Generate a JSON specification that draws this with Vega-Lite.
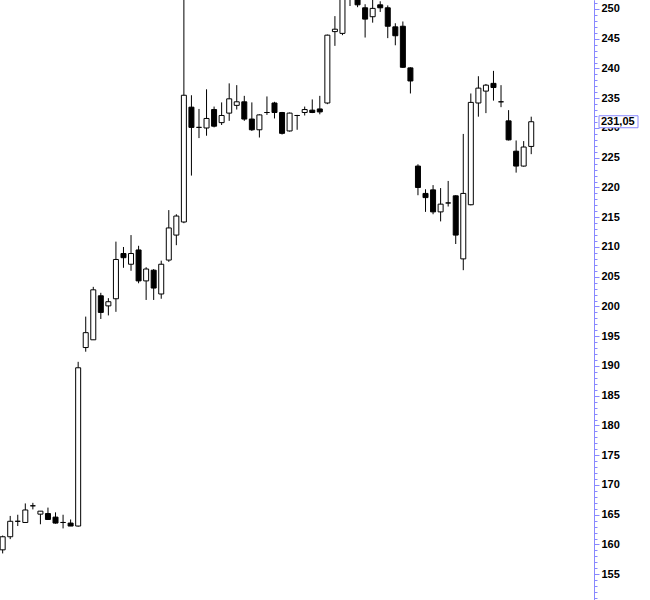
{
  "$schema": "https://vega.github.io/schema/vega-lite/v6.json",
  "width": 594,
  "height": 600,
  "padding": 0,
  "background": "white",
  "config": {
    "view": {"stroke": null},
    "locale": {"number": {"decimal": ",", "thousands": ".", "grouping": [3], "currency": ["", ""]}}
  },
  "data": {"values": [
    {"i":1,"o":159.1,"h":161.5,"l":158.5,"c":161.3},
    {"i":2,"o":161.3,"h":164.8,"l":160.9,"c":163.9},
    {"i":3,"o":163.9,"h":165.0,"l":163.1,"c":163.9},
    {"i":4,"o":163.7,"h":166.9,"l":163.7,"c":165.8},
    {"i":5,"o":166.5,"h":167.0,"l":165.9,"c":166.5},
    {"i":6,"o":165.1,"h":165.6,"l":163.4,"c":165.6},
    {"i":7,"o":165.2,"h":166.2,"l":164.2,"c":164.2},
    {"i":8,"o":164.6,"h":165.4,"l":163.5,"c":163.6},
    {"i":9,"o":163.7,"h":165.0,"l":162.7,"c":163.7},
    {"i":10,"o":163.6,"h":164.2,"l":163.1,"c":163.1},
    {"i":11,"o":163.1,"h":190.7,"l":163.0,"c":189.7},
    {"i":12,"o":193.1,"h":198.3,"l":192.4,"c":195.6},
    {"i":13,"o":194.4,"h":203.3,"l":194.4,"c":202.8},
    {"i":14,"o":201.8,"h":202.3,"l":197.9,"c":199.0},
    {"i":15,"o":200.1,"h":201.4,"l":198.5,"c":200.8},
    {"i":16,"o":201.3,"h":210.9,"l":199.1,"c":207.9},
    {"i":17,"o":208.9,"h":210.0,"l":206.5,"c":208.2},
    {"i":18,"o":207.1,"h":212.0,"l":206.0,"c":208.9},
    {"i":19,"o":209.5,"h":210.2,"l":203.9,"c":204.3},
    {"i":20,"o":204.3,"h":206.6,"l":201.1,"c":206.3},
    {"i":21,"o":206.1,"h":206.3,"l":201.1,"c":203.1},
    {"i":22,"o":202.1,"h":207.7,"l":201.3,"c":207.1},
    {"i":23,"o":207.8,"h":216.2,"l":207.5,"c":213.2},
    {"i":24,"o":212.0,"h":215.5,"l":210.3,"c":215.2},
    {"i":25,"o":214.2,"h":254.0,"l":214.0,"c":235.5},
    {"i":26,"o":233.5,"h":235.5,"l":222.0,"c":230.1},
    {"i":27,"o":230.1,"h":233.2,"l":228.3,"c":230.1},
    {"i":28,"o":230.0,"h":236.5,"l":228.7,"c":231.6},
    {"i":29,"o":233.1,"h":233.6,"l":230.1,"c":230.3},
    {"i":30,"o":230.9,"h":234.3,"l":230.5,"c":232.1},
    {"i":31,"o":232.5,"h":237.5,"l":231.2,"c":234.9},
    {"i":32,"o":233.8,"h":237.2,"l":233.1,"c":234.4},
    {"i":33,"o":234.4,"h":235.4,"l":231.2,"c":231.5},
    {"i":34,"o":231.5,"h":234.3,"l":229.5,"c":229.7},
    {"i":35,"o":229.7,"h":232.3,"l":228.4,"c":232.2},
    {"i":36,"o":232.6,"h":235.3,"l":232.2,"c":232.6},
    {"i":37,"o":234.2,"h":234.4,"l":231.6,"c":232.6},
    {"i":38,"o":232.6,"h":232.7,"l":228.9,"c":229.1},
    {"i":39,"o":229.5,"h":232.6,"l":229.4,"c":232.5},
    {"i":40,"o":232.1,"h":232.2,"l":229.7,"c":232.1},
    {"i":41,"o":232.6,"h":233.6,"l":232.1,"c":233.1},
    {"i":42,"o":233.0,"h":234.8,"l":232.5,"c":232.6},
    {"i":43,"o":233.2,"h":235.4,"l":232.3,"c":232.7},
    {"i":44,"o":234.2,"h":245.7,"l":234.0,"c":245.6},
    {"i":45,"o":246.2,"h":248.8,"l":243.8,"c":246.6},
    {"i":46,"o":245.9,"h":253.0,"l":245.6,"c":252.5},
    {"i":47,"o":252.8,"h":254.0,"l":250.5,"c":253.5},
    {"i":48,"o":252.0,"h":252.5,"l":250.3,"c":250.7},
    {"i":49,"o":250.2,"h":250.8,"l":245.2,"c":248.3},
    {"i":50,"o":248.7,"h":252.0,"l":247.7,"c":250.1},
    {"i":51,"o":250.7,"h":251.3,"l":249.5,"c":250.2},
    {"i":52,"o":250.2,"h":250.6,"l":245.1,"c":247.1},
    {"i":53,"o":247.0,"h":247.6,"l":243.9,"c":245.5},
    {"i":54,"o":247.1,"h":247.9,"l":240.1,"c":240.2},
    {"i":55,"o":240.1,"h":240.2,"l":235.8,"c":237.9},
    {"i":56,"o":223.6,"h":223.9,"l":218.7,"c":220.0},
    {"i":57,"o":219.0,"h":219.7,"l":215.9,"c":218.3},
    {"i":58,"o":219.6,"h":220.4,"l":215.5,"c":215.9},
    {"i":59,"o":215.9,"h":219.9,"l":214.3,"c":217.2},
    {"i":60,"o":217.4,"h":221.1,"l":216.8,"c":217.4},
    {"i":61,"o":218.6,"h":218.7,"l":210.5,"c":212.0},
    {"i":62,"o":208.0,"h":229.0,"l":206.1,"c":219.0},
    {"i":63,"o":217.1,"h":235.8,"l":217.0,"c":234.3},
    {"i":64,"o":234.2,"h":238.7,"l":231.9,"c":236.7},
    {"i":65,"o":236.2,"h":237.4,"l":232.5,"c":237.2},
    {"i":66,"o":237.5,"h":239.6,"l":234.6,"c":236.8},
    {"i":67,"o":234.4,"h":237.2,"l":233.5,"c":234.4},
    {"i":68,"o":231.2,"h":233.0,"l":227.9,"c":228.0},
    {"i":69,"o":226.1,"h":227.9,"l":222.5,"c":223.6},
    {"i":70,"o":223.6,"h":227.8,"l":223.5,"c":226.8},
    {"i":71,"o":226.9,"h":231.9,"l":225.6,"c":231.05}
  ]},
  "layer": [
    {
      "mark": {"type": "rule", "color": "black", "strokeWidth": 1, "clip": true},
      "encoding": {
        "x": {"field": "i", "type": "quantitative", "scale": {"domain": [1.31, 78.65], "nice": false, "zero": false}, "axis": null},
        "y": {"field": "l", "type": "quantitative", "scale": {"domain": [150.67, 251.51], "nice": false, "zero": false},
          "axis": {"orient": "right", "title": null, "grid": false, "tickCount": 20, "tickSize": 5, "domainColor": "#8888ff", "tickColor": "#8888ff", "labelColor": "black", "labelFont": "Liberation Sans", "labelFontSize": 11, "labelFontWeight": "bold", "labelPadding": 2, "labelFlush": false, "labelOverlap": false}},
        "y2": {"field": "h"}
      }
    },
    {
      "mark": {"type": "bar", "width": 5, "stroke": "black", "strokeWidth": 1, "clip": true},
      "encoding": {
        "x": {"field": "i", "type": "quantitative"},
        "y": {"field": "o", "type": "quantitative",
          "axis": {"orient": "right", "title": null, "grid": false, "tickCount": 100, "tickSize": 3, "labels": false, "domainColor": "#8888ff", "tickColor": "#8888ff"}},
        "y2": {"field": "c"},
        "fill": {"condition": {"test": "datum.c < datum.o", "value": "black"}, "value": "white"}
      }
    },
    {
      "transform": [{"filter": "datum.i == 71"}],
      "mark": {"type": "point", "shape": "M-1,-0.3077H1V0.3077H-1Z", "size": 1521, "filled": true, "fill": "white", "stroke": "#8888ff", "strokeWidth": 1, "opacity": 1, "xOffset": 24.5},
      "encoding": {
        "x": {"value": "width"},
        "y": {"field": "c", "type": "quantitative", "axis": null}
      }
    },
    {
      "transform": [{"filter": "datum.i == 71"}],
      "mark": {"type": "text", "align": "left", "baseline": "middle", "dx": 7, "font": "Liberation Sans", "fontSize": 11, "fontWeight": "bold", "color": "black"},
      "encoding": {
        "x": {"value": "width"},
        "y": {"field": "c", "type": "quantitative", "axis": null},
        "text": {"field": "c", "type": "quantitative", "format": ".2f"}
      }
    }
  ],
  "resolve": {"axis": {"y": "independent"}}
}
